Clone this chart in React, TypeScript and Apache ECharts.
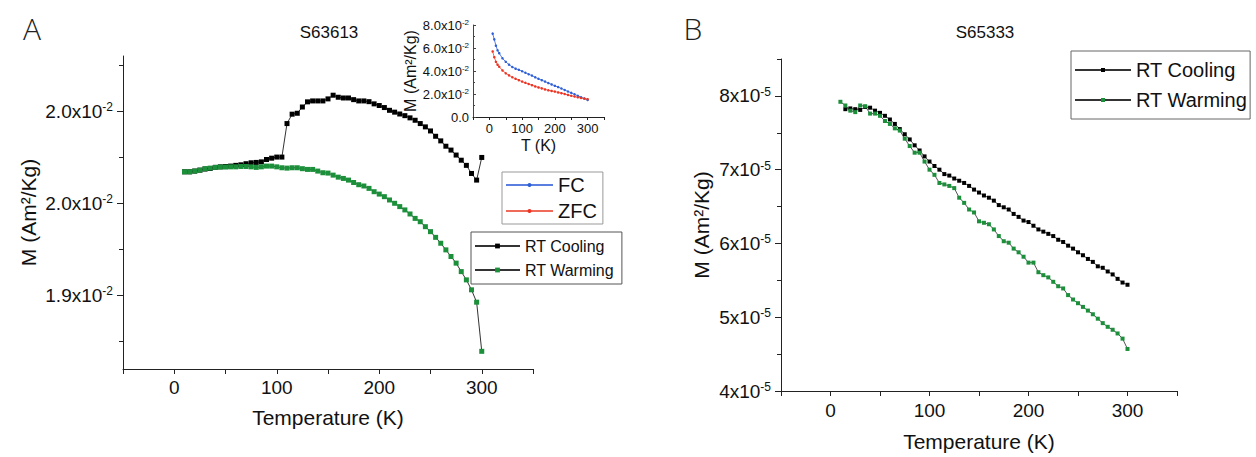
import React, { useEffect, useRef } from 'react';
import * as echarts from 'echarts';

const FONT = "'Liberation Sans', Arial, Helvetica, sans-serif";

// ---------- Panel A (S63613), M in units of 1e-2 Am^2/Kg ----------
const tempA = [10, 15, 20, 25, 30, 35, 40, 45, 50, 55, 60, 65, 70, 75, 80, 85, 90, 95, 100, 105,
  110, 115, 120, 125, 130, 135, 140, 145, 150, 155, 160, 165, 170, 175, 180, 185, 190, 195, 200, 205,
  210, 215, 220, 225, 230, 235, 240, 245, 250, 255, 260, 265, 270, 275, 280, 285, 290, 295, 300];
const coolingA = [1.9671, 1.9671, 1.9675, 1.9680, 1.9686, 1.9689, 1.9695, 1.9698, 1.9700, 1.9702,
  1.9706, 1.9709, 1.9715, 1.9720, 1.9722, 1.9725, 1.9738, 1.9745, 1.9751, 1.9751,
  1.9933, 1.9984, 1.9989, 2.0023, 2.0051, 2.0056, 2.0056, 2.0056, 2.0067, 2.0087,
  2.0076, 2.0072, 2.0072, 2.0063, 2.0056, 2.0056, 2.0052, 2.0040, 2.0031, 2.0020,
  2.0005, 1.9995, 1.9985, 1.9976, 1.9964, 1.9951, 1.9933, 1.9915, 1.9893, 1.9864,
  1.9839, 1.9810, 1.9789, 1.9762, 1.9734, 1.9706, 1.9662, 1.9626, 1.9749];
const warmingA = [1.9671, 1.9671, 1.9675, 1.9680, 1.9688, 1.9691, 1.9695, 1.9697, 1.9697, 1.9698,
  1.9698, 1.9700, 1.9700, 1.9698, 1.9695, 1.9698, 1.9702, 1.9702, 1.9698, 1.9693,
  1.9691, 1.9693, 1.9693, 1.9688, 1.9684, 1.9684, 1.9675, 1.9666, 1.9664, 1.9653,
  1.9642, 1.9635, 1.9626, 1.9613, 1.9601, 1.9594, 1.9581, 1.9563, 1.9550, 1.9536,
  1.9518, 1.9500, 1.9482, 1.9464, 1.9442, 1.9418, 1.9400, 1.9373, 1.9346, 1.9315,
  1.9283, 1.9247, 1.9211, 1.9175, 1.9129, 1.9084, 1.9030, 1.8963, 1.8696];
const yTicksA = [1.90, 1.95, 2.00];
const yTickLabelsA = ['1.9', '2.0', '2.0'];
const yMinorA = [1.875, 1.925, 1.975, 2.025];

// ---------- Inset (FC / ZFC), M in Am^2/Kg ----------
const tempInset = [10, 15, 20, 25, 30, 40, 50, 60, 70, 80, 90, 100, 110, 120, 130, 140, 150, 160,
  170, 180, 190, 200, 210, 220, 230, 240, 250, 260, 270, 280, 290, 300];
const fcInset = [0.0725, 0.0675, 0.062, 0.058, 0.0555, 0.051, 0.048, 0.0455, 0.0435, 0.042, 0.041,
  0.0398, 0.0385, 0.0372, 0.036, 0.0345, 0.0332, 0.032, 0.0308, 0.0295, 0.0283, 0.0271, 0.026,
  0.0248, 0.0235, 0.0222, 0.021, 0.0197, 0.0185, 0.0172, 0.016, 0.0148];
const zfcInset = [0.057, 0.052, 0.048, 0.0455, 0.0437, 0.0405, 0.038, 0.0362, 0.0346, 0.0332, 0.032,
  0.0308, 0.0297, 0.0287, 0.0277, 0.0266, 0.0257, 0.0249, 0.024, 0.0232, 0.0227, 0.0221, 0.0214,
  0.0207, 0.02, 0.0192, 0.0185, 0.0178, 0.0171, 0.0165, 0.016, 0.0155];
const yTicksInset = [0, 0.02, 0.04, 0.06, 0.08];
const yTickLabelsInset = ['0.0', '2.0', '4.0', '6.0', '8.0'];
const yMinorInset = [0.01, 0.03, 0.05, 0.07];
const xLabelsInset = [0, 100, 200, 300];

// ---------- Panel B (S65333), M in units of 1e-5 Am^2/Kg ----------
const tempBCool = [15, 20, 25, 30, 35, 40, 45, 50, 55, 60, 65, 70, 75, 80, 85, 90, 95, 100, 105, 110,
  115, 120, 125, 130, 135, 140, 145, 150, 155, 160, 165, 170, 175, 180, 185, 190, 195, 200, 205, 210,
  215, 220, 225, 230, 235, 240, 245, 250, 255, 260, 265, 270, 275, 280, 285, 290, 295, 300];
const coolingB = [7.82, 7.83, 7.82, 7.81, 7.85, 7.84, 7.80, 7.77, 7.73, 7.68,
  7.62, 7.55, 7.48, 7.41, 7.33, 7.26, 7.18, 7.11, 7.05, 7.00,
  6.94, 6.92, 6.88, 6.85, 6.82, 6.78, 6.73, 6.69, 6.65, 6.62,
  6.58, 6.52, 6.49, 6.46, 6.40, 6.36, 6.31, 6.29, 6.24, 6.19,
  6.16, 6.13, 6.10, 6.05, 6.02, 5.97, 5.93, 5.88, 5.84, 5.79,
  5.75, 5.69, 5.67, 5.62, 5.58, 5.52, 5.47, 5.44];
const tempBWarm = [10, 15, 20, 25, 30, 35, 40, 45, 50, 55, 60, 65, 70, 75, 80, 85, 90, 95, 100, 105,
  110, 115, 120, 125, 130, 135, 140, 145, 150, 155, 160, 165, 170, 175, 180, 185, 190, 195, 200, 205,
  210, 215, 220, 225, 230, 235, 240, 245, 250, 255, 260, 265, 270, 275, 280, 285, 290, 295, 300];
const warmingB = [7.92, 7.87, 7.80, 7.78, 7.87, 7.86, 7.76, 7.76, 7.73, 7.66,
  7.62, 7.56, 7.53, 7.42, 7.32, 7.23, 7.23, 7.11, 7.00, 6.93,
  6.82, 6.80, 6.78, 6.75, 6.62, 6.55, 6.46, 6.42, 6.30, 6.28,
  6.26, 6.19, 6.10, 6.03, 6.01, 5.93, 5.88, 5.82, 5.74, 5.74,
  5.61, 5.57, 5.54, 5.48, 5.42, 5.39, 5.30, 5.24, 5.19, 5.14,
  5.09, 5.04, 4.98, 4.92, 4.87, 4.83, 4.78, 4.71, 4.57];
const yTicksB = [4, 5, 6, 7, 8];
const yMinorB = [4.5, 5.5, 6.5, 7.5, 8.5];

const xTicksMain = [-50, 0, 50, 100, 150, 200, 250, 300, 350];
const xLabelsMain = [0, 100, 200, 300];

const seriesNames = ['RT Cooling', 'RT Warming'];
const insetNames = ['FC', 'ZFC'];

const TXT = '#111';
const AX = '#222';
const GREEN = '#1b8f3a';

function pairs(xs: number[], ys: number[]) {
  return xs.map((x, i) => [x, ys[i]]);
}

function richLabel(size: number, sup: number) {
  return {
    b: { fontSize: size, fontFamily: FONT, color: TXT, lineHeight: size + 1 },
    s: { fontSize: sup, fontFamily: FONT, color: TXT, verticalAlign: 'top', lineHeight: sup },
  };
}

function labelLookup(values: number[], labels: string[], v: number) {
  let best = 0;
  for (let i = 0; i < values.length; i++) {
    if (Math.abs(values[i] - v) < Math.abs(values[best] - v)) best = i;
  }
  return labels[best];
}

function xAxisCfg(gridIndex: number, o: any) {
  return {
    type: 'value', gridIndex, min: -50, max: 350, position: 'bottom',
    axisLine: { show: true, onZero: false, lineStyle: { color: AX, width: 1 } },
    axisTick: { show: true, customValues: o.ticks, length: o.tickLen, inside: !!o.inside, lineStyle: { color: AX } },
    axisLabel: { customValues: o.labels, fontSize: o.fontSize, fontFamily: FONT, color: TXT, margin: o.margin },
    splitLine: { show: false },
    name: o.name, nameLocation: 'middle', nameGap: o.nameGap,
    nameTextStyle: { fontSize: o.nameSize, fontFamily: FONT, color: TXT },
  };
}

function minorY(gridIndex: number, min: number, max: number, ticks: number[], len: number, inside: boolean, color: string) {
  return {
    type: 'value', gridIndex, min, max, position: 'left', offset: 0,
    axisLine: { show: false, onZero: false },
    axisLabel: { show: false }, splitLine: { show: false },
    axisTick: { show: true, customValues: ticks, length: len, inside, lineStyle: { color } },
  };
}

export default function App() {
  const ref = useRef<HTMLDivElement>(null);
  useEffect(() => {
    if (!ref.current) return;
    const chart = echarts.init(ref.current, undefined, { renderer: 'svg' });
    const option: any = {
      animation: false,
      backgroundColor: '#fff',
      grid: [
        { left: 123, top: 56, width: 410, height: 313 },
        { left: 473, top: 25, width: 131, height: 92 },
        { left: 781, top: 59, width: 396, height: 334 },
      ],
      xAxis: [
        xAxisCfg(0, { ticks: xTicksMain, labels: xLabelsMain, tickLen: 5, fontSize: 19, margin: 9, name: 'Temperature (K)', nameGap: 38, nameSize: 21 }),
        xAxisCfg(1, { ticks: xTicksMain, labels: xLabelsInset, tickLen: 3, fontSize: 13, margin: 5, name: 'T (K)', nameGap: 20, nameSize: 16 }),
        xAxisCfg(2, { ticks: xTicksMain, labels: xLabelsMain, tickLen: 5, fontSize: 19, margin: 10, name: 'Temperature (K)', nameGap: 40, nameSize: 21 }),
      ],
      yAxis: [
        {
          type: 'value', gridIndex: 0, min: 1.86, max: 2.03, position: 'left',
          axisLine: { show: true, onZero: false, lineStyle: { color: AX } },
          axisTick: { show: true, customValues: yTicksA, length: 6, lineStyle: { color: AX } },
          axisLabel: {
            customValues: yTicksA, margin: 10,
            formatter: (v: number) => `{b|${labelLookup(yTicksA, yTickLabelsA, v)}x10}{s|-2}`,
            rich: richLabel(19, 12),
          },
          splitLine: { show: false },
          name: 'M (Am²/Kg)', nameLocation: 'middle', nameGap: 84, nameRotate: 90,
          nameTextStyle: { fontSize: 21, fontFamily: FONT, color: TXT },
        },
        minorY(0, 1.86, 2.03, yMinorA, 4, false, AX),
        {
          type: 'value', gridIndex: 1, min: 0, max: 0.08, position: 'left',
          axisLine: { show: true, onZero: false, lineStyle: { color: '#444' } },
          axisTick: { show: true, customValues: yTicksInset, length: 3, inside: true, lineStyle: { color: '#444' } },
          axisLabel: {
            customValues: yTicksInset, margin: 4,
            formatter: (v: number) => {
              const l = labelLookup(yTicksInset, yTickLabelsInset, v);
              return v === 0 ? `{b|${l}}` : `{b|${l}x10}{s|-2}`;
            },
            rich: richLabel(13, 8),
          },
          splitLine: { show: false },
          name: 'M (Am²/Kg)', nameLocation: 'middle', nameGap: 50, nameRotate: 90,
          nameTextStyle: { fontSize: 16, fontFamily: FONT, color: TXT },
        },
        minorY(1, 0, 0.08, yMinorInset, 2, true, '#444'),
        {
          type: 'value', gridIndex: 2, min: 4, max: 8.5, position: 'left',
          axisLine: { show: true, onZero: false, lineStyle: { color: AX } },
          axisTick: { show: true, customValues: yTicksB, length: 6, lineStyle: { color: AX } },
          axisLabel: {
            customValues: yTicksB, margin: 10,
            formatter: (v: number) => `{b|${v}x10}{s|-5}`,
            rich: richLabel(19, 12),
          },
          splitLine: { show: false },
          name: 'M (Am²/Kg)', nameLocation: 'middle', nameGap: 69, nameRotate: 90,
          nameTextStyle: { fontSize: 21, fontFamily: FONT, color: TXT },
        },
        minorY(2, 4, 8.5, yMinorB, 4, false, AX),
      ],
      legend: [
        {
          data: seriesNames, orient: 'vertical', left: 471, top: 232,
          itemWidth: 45, itemHeight: 6, itemGap: 8,
          textStyle: { fontSize: 16, fontFamily: FONT, color: TXT },
          borderColor: '#555', borderWidth: 1, padding: [6, 8, 6, 3], backgroundColor: '#fff',
        },
        {
          data: insetNames, orient: 'vertical', left: 502, top: 172,
          itemWidth: 47, itemHeight: 5, itemGap: 6,
          textStyle: { fontSize: 20, fontFamily: FONT, color: TXT },
          borderColor: '#999', borderWidth: 1, padding: [3, 6, 3, 3], backgroundColor: '#fff',
        },
        {
          data: seriesNames, orient: 'vertical', left: 1071, top: 51,
          itemWidth: 56, itemHeight: 5, itemGap: 10,
          textStyle: { fontSize: 20, fontFamily: FONT, color: TXT },
          borderColor: '#666', borderWidth: 1, padding: [9, 3, 9, 3], backgroundColor: '#fff',
        },
      ],
      graphic: [
        { type: 'text', x: 32, y: 28, style: { text: 'A', fill: '#222', font: '300 30px "Open Sans", sans-serif', align: 'center', verticalAlign: 'middle' } },
        { type: 'text', x: 329, y: 32, style: { text: 'S63613', fill: TXT, font: `17px ${FONT}`, align: 'center', verticalAlign: 'middle' } },
        { type: 'text', x: 693, y: 28, style: { text: 'B', fill: '#222', font: '300 30px "Open Sans", sans-serif', align: 'center', verticalAlign: 'middle' } },
        { type: 'text', x: 985, y: 32, style: { text: 'S65333', fill: TXT, font: `17px ${FONT}`, align: 'center', verticalAlign: 'middle' } },
      ],
      series: [
        {
          type: 'line', name: 'RT Cooling', xAxisIndex: 0, yAxisIndex: 0, data: pairs(tempA, coolingA),
          symbol: 'rect', symbolSize: 5, itemStyle: { color: '#000' }, lineStyle: { color: '#333', width: 1 },
        },
        {
          type: 'line', name: 'RT Warming', xAxisIndex: 0, yAxisIndex: 0, data: pairs(tempA, warmingA),
          symbol: 'rect', symbolSize: 5, itemStyle: { color: GREEN }, lineStyle: { color: '#333', width: 1 },
        },
        {
          type: 'line', name: 'FC', xAxisIndex: 1, yAxisIndex: 2, data: pairs(tempInset, fcInset),
          symbol: 'circle', symbolSize: 2.5, itemStyle: { color: '#2d5fd6' }, lineStyle: { color: '#5a7fe0', width: 1 },
        },
        {
          type: 'line', name: 'ZFC', xAxisIndex: 1, yAxisIndex: 2, data: pairs(tempInset, zfcInset),
          symbol: 'circle', symbolSize: 2.5, itemStyle: { color: '#ee3322' }, lineStyle: { color: '#f06a5a', width: 1 },
        },
        {
          type: 'line', name: 'RT Cooling', xAxisIndex: 2, yAxisIndex: 4, data: pairs(tempBCool, coolingB),
          symbol: 'rect', symbolSize: 4, itemStyle: { color: '#000' }, lineStyle: { color: '#555', width: 1 },
        },
        {
          type: 'line', name: 'RT Warming', xAxisIndex: 2, yAxisIndex: 4, data: pairs(tempBWarm, warmingB),
          symbol: 'rect', symbolSize: 4, itemStyle: { color: GREEN }, lineStyle: { color: '#555', width: 1 },
        },
      ],
    };
    chart.setOption(option);
    return () => chart.dispose();
  }, []);
  return (
    <div
      ref={ref}
      style={{ position: 'fixed', left: 0, top: 0, width: 1256, height: 457, background: '#fff' }}
    />
  );
}
